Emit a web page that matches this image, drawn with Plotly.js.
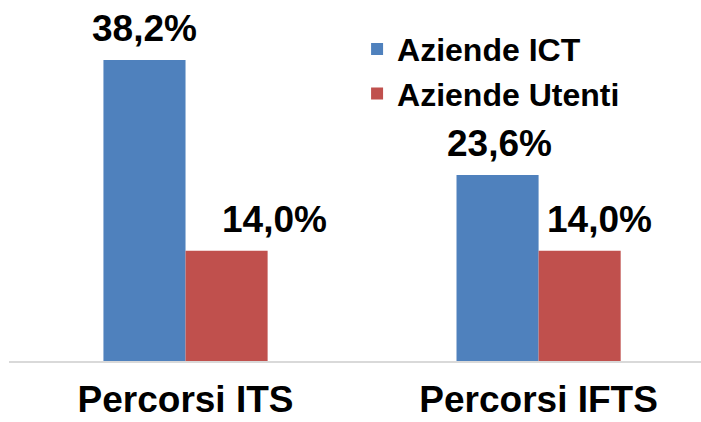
<!DOCTYPE html>
<html>
<head>
<meta charset="utf-8">
<script src="https://cdn.plot.ly/plotly-3.0.1.min.js"></script>
<style>html,body{margin:0;padding:0;background:#fff;}#chart{width:701px;height:422px;}</style>
</head>
<body>
<div id="chart"></div>
<script>
const categories = ["Percorsi ITS", "Percorsi IFTS"];
const seriesNames = ["Aziende ICT", "Aziende Utenti"];
const ictValues = [38.2, 23.6];
const utentiValues = [14.0, 14.0];
const colors = ["#4F81BD", "#C0504D"];

const fmt = v => v.toFixed(1).replace(".", ",") + "%";
const FONT = "Liberation Sans, Arial, sans-serif";

const traces = [
  {type: "bar", name: seriesNames[0], x: categories, y: ictValues, marker: {color: colors[0]}, hoverinfo: "none"},
  {type: "bar", name: seriesNames[1], x: categories, y: utentiValues, marker: {color: colors[1]}, hoverinfo: "none"}
];

// label placement (style only)
const labelXShift = [[0, 2], [48, 20]];
const offset = 0.1165;
const annotations = [];
[ictValues, utentiValues].forEach((vals, s) => {
  vals.forEach((v, i) => {
    annotations.push({
      x: i + (s === 0 ? -offset : offset), y: v, xref: "x", yref: "y",
      text: "<b>" + fmt(v) + "</b>", showarrow: false,
      yanchor: "bottom", yshift: 9, xshift: labelXShift[s][i],
      font: {family: FONT, size: 37, color: "#000"}
    });
  });
});

const layout = {
  width: 701, height: 422,
  margin: {l: 9, r: 0, t: 0, b: 61},
  paper_bgcolor: "#fff", plot_bgcolor: "#fff",
  barmode: "group", bargap: 0.535, bargroupgap: 0,
  showlegend: true,
  legend: {x: 0.503, y: 0.94, xanchor: "left", yanchor: "top",
           font: {family: FONT, size: 32, color: "#000", weight: "bold"},
           bgcolor: "rgba(0,0,0,0)", tracegroupgap: 0},
  xaxis: {type: "category", range: [-0.5, 1.46], showline: true, linecolor: "#D9D9D9", linewidth: 2,
          ticks: "", showgrid: false, zeroline: false, automargin: false,
          ticklabelstandoff: 5,
          tickfont: {family: FONT, size: 37, color: "#000", weight: "bold"}},
  yaxis: {range: [0, 45.8], visible: false, showgrid: false, zeroline: false},
  annotations: annotations
};

Plotly.newPlot("chart", traces, layout, {staticPlot: true, displayModeBar: false});
</script>
</body>
</html>
